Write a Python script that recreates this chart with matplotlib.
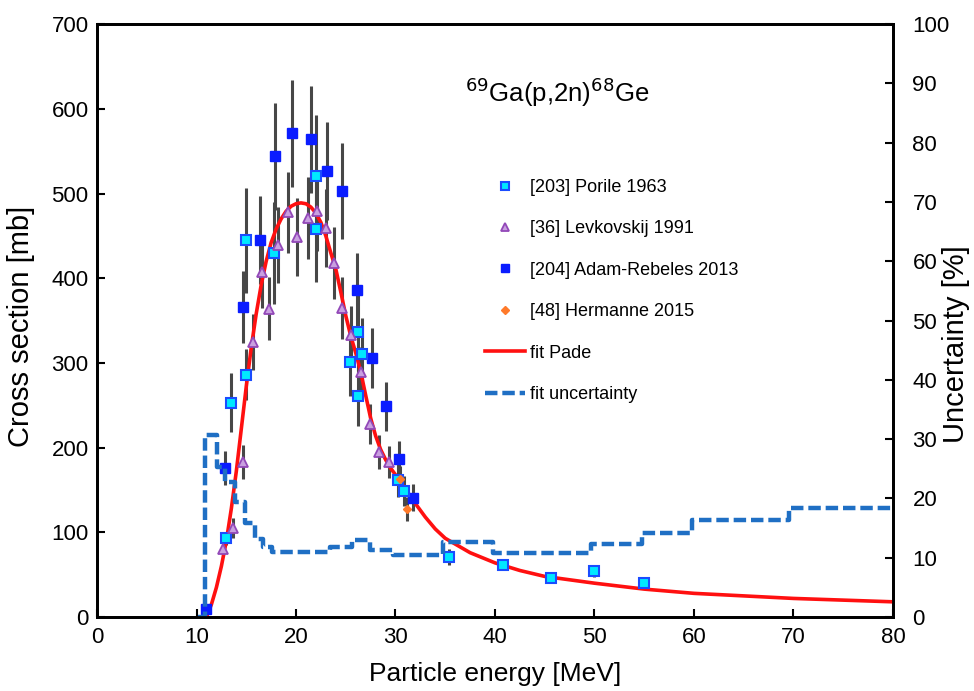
import numpy as np
import matplotlib.pyplot as plt

plt.rcParams['font.family'] = ['Liberation Sans', 'DejaVu Sans']

# [203] Porile 1963
porile_e = [13.0, 13.5, 15.0, 15.0, 17.8, 22.0, 22.0, 25.4, 26.2, 26.6, 26.2, 30.3, 30.9, 35.4, 40.8, 45.6, 50.0, 55.0]
porile_xs = [93, 253, 286, 445, 430, 521, 458, 301, 336, 311, 261, 162, 149, 71, 62, 46, 54, 40]
porile_err = [8, 35, 30, 62, 60, 72, 62, 40, 45, 42, 35, 20, 18, 9, 7, 5, 7, 6]

# [36] Levkovskij 1991
levk_e = [12.7, 13.7, 14.7, 15.7, 16.6, 17.3, 18.2, 19.2, 20.1, 21.2, 22.1, 23.0, 23.8, 24.6, 25.5, 26.5, 27.4, 28.3, 29.3]
levk_xs = [80, 105, 183, 325, 407, 364, 439, 478, 449, 471, 480, 459, 418, 365, 333, 289, 228, 195, 183]
levk_err = [8, 12, 20, 33, 42, 37, 45, 48, 46, 48, 48, 46, 42, 37, 34, 30, 24, 20, 19]

# [204] Adam-Rebeles 2013
adam_e = [11.0, 12.9, 14.7, 16.4, 17.9, 19.6, 21.5, 23.1, 24.6, 26.1, 27.6, 29.0, 30.4, 31.8]
adam_xs = [10, 176, 366, 445, 544, 571, 564, 527, 503, 386, 306, 249, 187, 141]
adam_err = [4, 20, 42, 52, 63, 63, 63, 58, 57, 44, 35, 29, 21, 16]

# [48] Hermanne 2015
herm_e = [30.5, 31.2]
herm_xs = [163, 128]
herm_err = [15, 14]

# fit Pade
fit_e = [11.0, 11.5, 12.0, 12.5, 13.0, 13.5, 14.0, 14.5, 15.0, 15.5, 16.0, 16.5, 17.0, 17.5,
         18.0, 18.5, 19.0, 19.5, 20.0, 20.5, 21.0, 21.5, 22.0, 22.5, 23.0, 23.5, 24.0, 24.5,
         25.0, 25.5, 26.0, 26.5, 27.0, 27.5, 28.0, 28.5, 29.0, 29.5, 30.0, 30.5, 31.0, 32.0,
         33.0, 34.0, 35.0, 37.5, 40.0, 42.5, 45.0, 50.0, 55.0, 60.0, 65.0, 70.0, 75.0, 80.0]
fit_xs = [0, 15, 35, 60, 90, 128, 172, 222, 272, 318, 358, 392, 420, 442,
          458, 470, 479, 485, 488, 489, 488, 484, 477, 466, 450, 430, 411, 384,
          356, 332, 312, 290, 262, 235, 214, 198, 186, 176, 168, 160, 151, 134,
          118, 104, 93, 76, 64, 55, 48, 40, 33, 28, 25, 22, 20, 18]

# fit uncertainty [%] (step)
unc_e = [10.2, 10.9, 12.1, 12.9, 13.9, 14.9, 15.9, 16.7, 17.6, 23.4, 25.6, 27.4, 29.7, 34.8, 39.8, 49.7, 54.8, 59.8, 69.6, 80.0]
unc_pct = [0, 30.7, 25.3, 22.8, 19.4, 15.9, 13.2, 11.8, 11.0, 11.8, 13.0, 11.3, 10.4, 12.7, 10.8, 12.3, 14.2, 16.4, 18.4, 18.4]

fig = plt.figure(figsize=(9.74, 6.91), dpi=100)
ax = fig.add_axes([0.0996, 0.107, 0.8172, 0.858])
ax2 = ax.twinx()

ecol = '#474747'
ax.errorbar(porile_e, porile_xs, yerr=porile_err, fmt='none', ecolor=ecol, elinewidth=2.2, zorder=2)
ax.errorbar(levk_e, levk_xs, yerr=levk_err, fmt='none', ecolor=ecol, elinewidth=2.2, zorder=2)
ax.errorbar(adam_e, adam_xs, yerr=adam_err, fmt='none', ecolor=ecol, elinewidth=2.2, zorder=2)
ax.errorbar(herm_e, herm_xs, yerr=herm_err, fmt='none', ecolor=ecol, elinewidth=2.2, zorder=2)

fit_line, = ax.plot(fit_e, fit_xs, color='#ff1010', lw=2.6, zorder=3, label='fit Pade')

p1, = ax.plot(porile_e, porile_xs, 's', ms=7, mfc='#00e8ff', mec='#1a4cff', mew=1.5, zorder=5,
              label='[203] Porile 1963')
p2, = ax.plot(levk_e, levk_xs, '^', ms=6.5, mfc='#c9a0e0', mec='#9248b8', mew=1.3, zorder=5,
              label='[36] Levkovskij 1991')
p3, = ax.plot(adam_e, adam_xs, 's', ms=7.5, mfc='#0a1cff', mec='#0a1cff', zorder=4,
              label='[204] Adam-Rebeles 2013')
p4, = ax.plot(herm_e, herm_xs, 'D', ms=4.5, mfc='#ff7a2a', mec='#ff7a2a', zorder=5,
              label='[48] Hermanne 2015')

unc_line, = ax2.plot(unc_e, unc_pct, drawstyle='steps-post', color='#1f6fc4', lw=3.2,
                     dashes=(2.8, 1.1), label='fit uncertainty')

ax.set_xlim(0, 80)
ax.set_ylim(0, 700)
ax2.set_ylim(0, 100)
ax.set_xticks(np.arange(0, 81, 10))
ax.set_yticks(np.arange(0, 701, 100))
ax2.set_yticks(np.arange(0, 101, 10))

for a in (ax, ax2):
    a.tick_params(direction='in', length=6, width=1.5, labelsize=16)
    for s in a.spines.values():
        s.set_linewidth(2)
ax.tick_params(axis='x', pad=7)
ax.tick_params(axis='y', pad=6)
ax2.tick_params(axis='y', pad=14)

ax.set_xlabel('Particle energy [MeV]', fontsize=19, labelpad=10)
ax.set_ylabel('Cross section [mb]', fontsize=21)
ax2.set_ylabel('Uncertainty [%]', fontsize=21)
ax.yaxis.set_label_coords(-0.078, 0.49)
ax2.yaxis.set_label_coords(1.062, 0.46)

ax.text(0.578, 0.885, r'$^{69}$Ga(p,2n)$^{68}$Ge', transform=ax.transAxes,
        ha='center', va='center', fontsize=18.5)

leg = ax2.legend(handles=[p1, p2, p3, p4, fit_line, unc_line], loc='upper left',
                 bbox_to_anchor=(476 / 974, 1 - 170 / 691), bbox_transform=fig.transFigure,
                 frameon=False, fontsize=13, labelspacing=1.35, handlelength=2.2,
                 handletextpad=0.3, borderpad=0, markerscale=0.8)

fig.savefig('out.png', dpi=100)
